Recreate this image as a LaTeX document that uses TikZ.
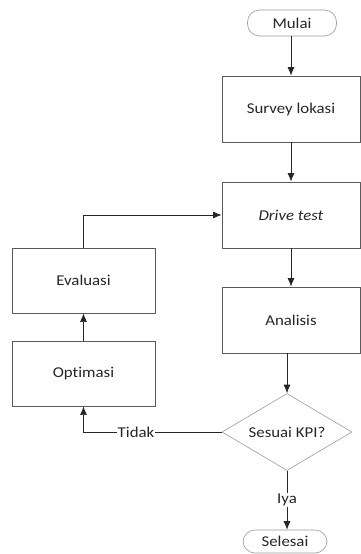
\documentclass[tikz,border=0pt]{standalone}
\usepackage{fontspec}
\setmainfont[FakeStretch=1.12,Ligatures=NoCommon]{Carlito}
\usetikzlibrary{arrows.meta,shapes.geometric}
\definecolor{boxline}{HTML}{5A5A5A}
\definecolor{termline}{HTML}{9A9A9A}
\definecolor{txt}{HTML}{262626}
\tikzset{
  prosesbox/.style={draw=boxline, line width=0.9pt, minimum width=138pt, minimum height=66pt, inner sep=0pt},
  terminal/.style={draw=termline, line width=0.6pt, rounded corners=12pt, inner sep=0pt},
  keputusan/.style={diamond, draw=termline, line width=0.6pt, inner sep=0pt, aspect=1.69, minimum width=130pt, minimum height=77pt},
  panah/.style={-{Latex[length=8.5pt,width=7pt]}, line width=0.7pt, black!85},
  garis/.style={line width=0.7pt, black!85}
}
\begin{document}
\begin{tikzpicture}[x=1pt,y=-1pt,font=\fontsize{15}{17}\selectfont\color{txt}]
  \useasboundingbox (0,0) rectangle (361,554);
  \node[terminal, minimum width=89pt, minimum height=26pt] (mulai) at (292,23) {Mulai};
  \node[prosesbox] (survey) at (291,109) {Survey lokasi};
  \node[prosesbox] (drive) at (291,215) {\textit{Drive test}};
  \node[prosesbox] (analisis) at (291,320) {Analisis};
  \node[keputusan] (kpi) at (287,432) {Sesuai KPI?};
  \node[terminal, minimum width=84pt, minimum height=23pt] (selesai) at (285,541.5) {Selesai};
  \node[prosesbox, minimum width=143pt, minimum height=65pt] (evaluasi) at (83.5,280.5) {Evaluasi};
  \node[prosesbox, minimum width=143pt, minimum height=65pt] (optimasi) at (83.5,373.5) {Optimasi};
  % alur utama
  \draw[panah] (mulai.south -| survey.north) -- (survey.north);
  \draw[panah] (survey.south) -- (drive.north);
  \draw[panah] (drive.south) -- (analisis.north);
  \draw[panah] (analisis.south -| kpi.north) -- (kpi.north);
  \draw[panah] (kpi.south) -- node[fill=white, inner sep=1pt] {Iya} (kpi.south |- selesai.north);
  % alur perbaikan
  \draw[panah] (kpi.west) -| node[pos=0.31, fill=white, inner sep=1pt] {Tidak} (optimasi.south);
  \draw[panah] (optimasi.north) -- (evaluasi.south);
  \draw[panah] (evaluasi.north) |- (drive.west);
\end{tikzpicture}
\end{document}
